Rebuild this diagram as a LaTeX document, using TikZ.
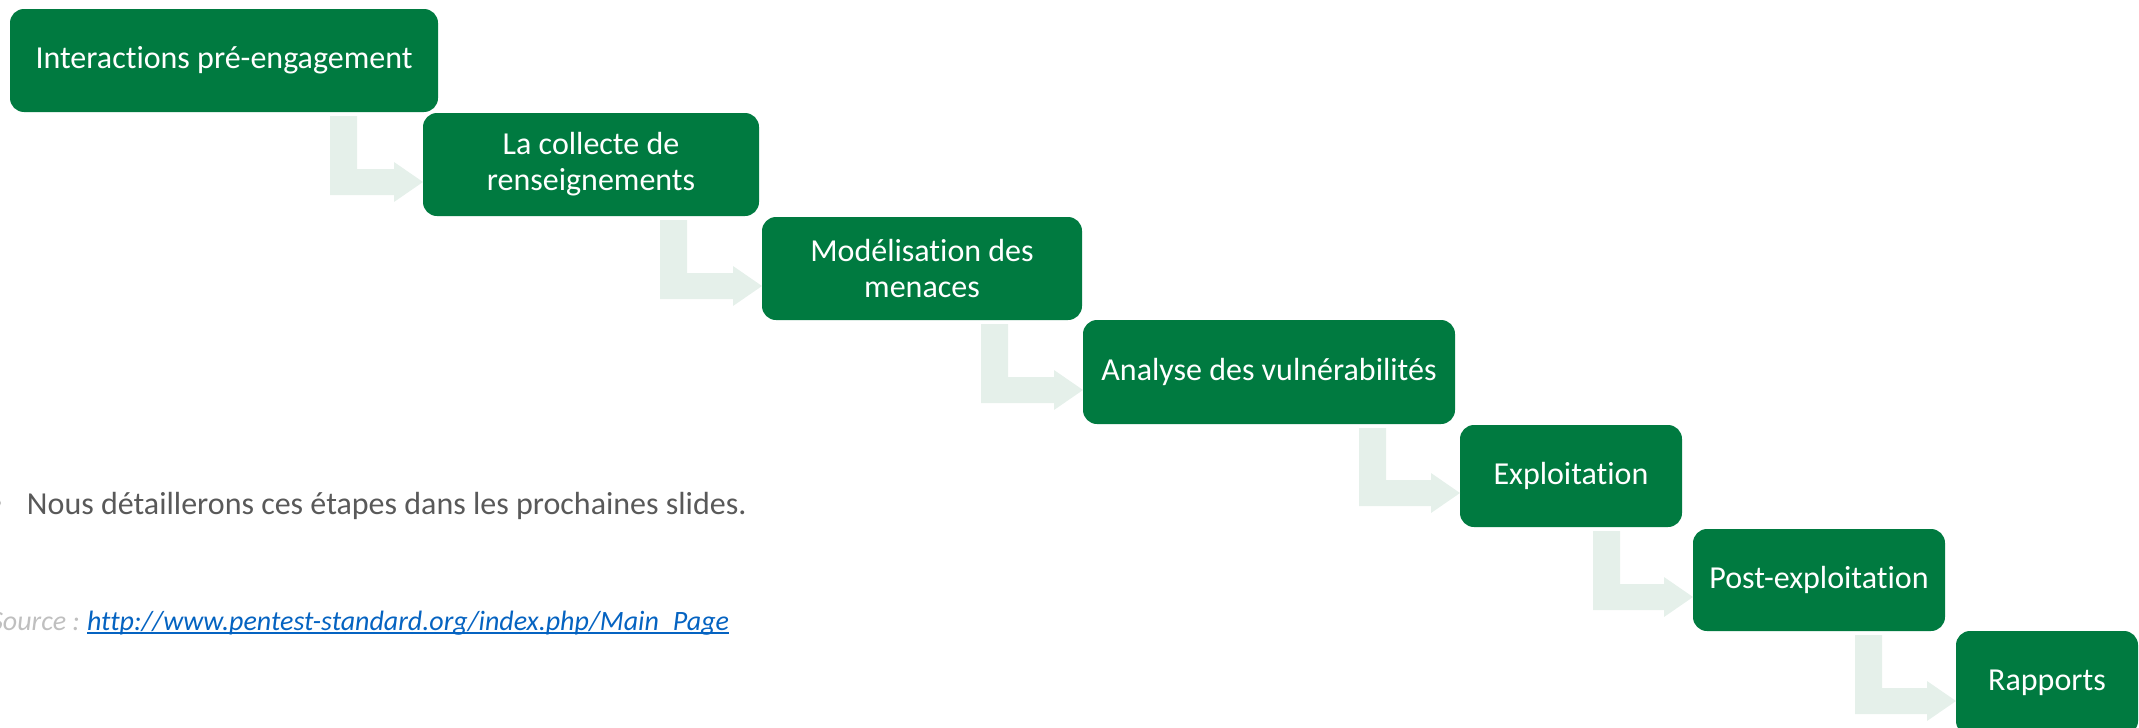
\documentclass[tikz,border=0pt]{standalone}
\usepackage{fontspec}
\setmainfont{Carlito}[Ligatures={NoCommon}]
\usetikzlibrary{calc}

\definecolor{stepgreen}{HTML}{007A40}
\definecolor{flowtint}{HTML}{E5F0EA}
\definecolor{bodygrey}{HTML}{595959}
\definecolor{srcgrey}{HTML}{BFBFBF}
\definecolor{linkblue}{HTML}{0563C1}

% bent "step down" arrow: #1 upper box, #2 lower box, #3 left edge of the stem
\newcommand\stepdown[3]{%
  \fill[flowtint] let \p1=(#1.south), \p2=(#2.south west) in
    (#3pt, \y1-4pt) -- (#3pt+27pt, \y1-4pt) -- (#3pt+27pt, \y2+47pt)
    -- (\x2-29pt, \y2+47pt) -- (\x2-29pt, \y2+54pt) -- (\x2, \y2+34pt)
    -- (\x2-29pt, \y2+14pt) -- (\x2-29pt, \y2+21pt) -- (#3pt, \y2+21pt) -- cycle;}

\begin{document}
\begin{tikzpicture}[x=1pt, y=-1pt,
  stepbox/.style={fill=stepgreen, text=white, rounded corners=14pt,
    inner sep=0pt, outer sep=0pt, anchor=north west, align=center,
    font=\fontsize{32}{36}\selectfont},
  plain/.style={inner sep=0pt, outer sep=0pt}]
\useasboundingbox (0,0) rectangle (2139,728);

% process steps
\node[stepbox, minimum width=428pt, minimum height=103pt] (s1) at (10,9) {Interactions pré-engagement};
\node[stepbox, minimum width=336pt, minimum height=103pt] (s2) at (423,113) {La collecte de\\renseignements};
\node[stepbox, minimum width=320pt, minimum height=103pt] (s3) at (762,217) {Modélisation des\\menaces};
\node[stepbox, minimum width=372pt, minimum height=104pt] (s4) at (1083,320) {Analyse des vulnérabilités};
\node[stepbox, minimum width=222pt, minimum height=102pt] (s5) at (1460,425) {Exploitation};
\node[stepbox, minimum width=252pt, minimum height=102pt] (s6) at (1693,529) {Post-exploitation};
\node[stepbox, minimum width=182pt, minimum height=104pt] (s7) at (1956,631) {Rapports};

% connectors between consecutive steps
\stepdown{s1}{s2}{330}
\stepdown{s2}{s3}{660}
\stepdown{s3}{s4}{981}
\stepdown{s4}{s5}{1359}
\stepdown{s5}{s6}{1593}
\stepdown{s6}{s7}{1855}

% side note
\fill[srcgrey] (-3,503) circle (4);
\node[plain, anchor=base west, text=bodygrey, font=\fontsize{32}{38}\selectfont] (note) at (27,514)
  {Nous détaillerons ces étapes dans les prochaines slides.};

% source reference
\node[plain, anchor=base east, text=srcgrey, font=\fontsize{28}{34}\selectfont\itshape] (srclabel) at (80,630) {Source :};
\node[plain, anchor=base west, text=linkblue, font=\fontsize{28}{34}\selectfont\itshape] (srclink) at (87,630)
  {http://www.pentest-standard.org/index.php/Main\_Page};
\draw[linkblue, line width=1.5pt] ([yshift=-3pt]srclink.base west) -- ([yshift=-3pt]srclink.base east);
\end{tikzpicture}
\end{document}
